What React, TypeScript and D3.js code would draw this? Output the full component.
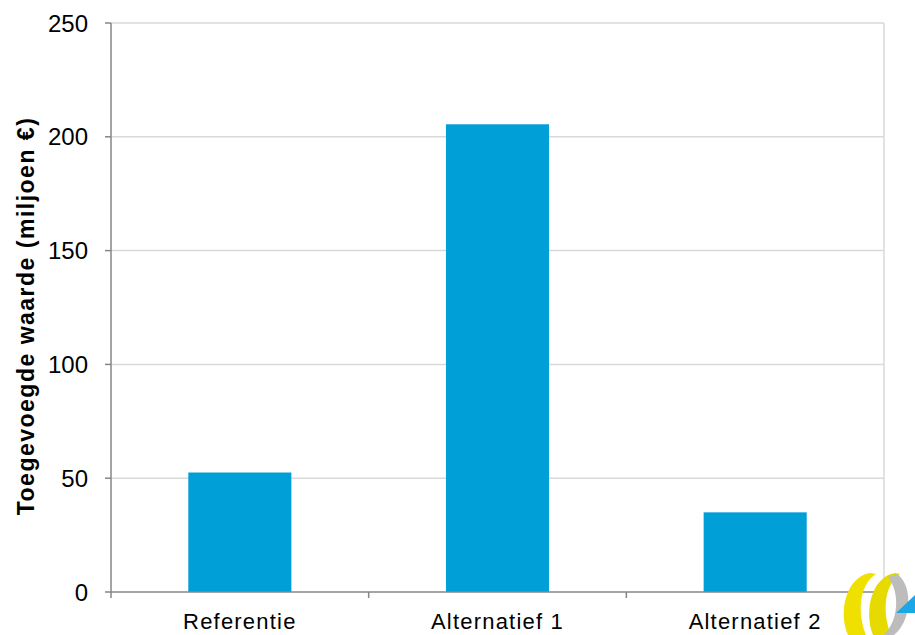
import React from "react";
import * as d3 from "d3";

const categories = ["Referentie", "Alternatief 1", "Alternatief 2"];
const values = [52.5, 205.5, 35];
const yTicks = [0, 50, 100, 150, 200, 250];
const yTitle = "Toegevoegde waarde (miljoen €)";

export default function App() {
  const W = 915, H = 635;
  const left = 111, right = 884, top = 23, bottom = 592;
  const x = d3.scaleBand<string>().domain(categories).range([left, right]).paddingInner(0.6).paddingOuter(0.3);
  const xb = d3.scaleBand<string>().domain(categories).range([left, right]);
  const y = d3.scaleLinear().domain([0, 250]).range([bottom, top]);
  const font = "'Liberation Sans', Arial, sans-serif";
  const bounds = [...categories.map((c) => xb(c) as number), right];
  return (
    <svg width={W} height={H} style={{ position: "absolute", left: 0, top: 0 }} fontFamily={font}>
      <rect width={W} height={H} fill="#fff" />
      {yTicks.filter((t) => t > 0).map((t) => (
        <line key={t} x1={left} x2={right} y1={y(t)} y2={y(t)} stroke="#d9d9d9" strokeWidth={1.5} />
      ))}
      <line x1={right} x2={right} y1={top} y2={bottom} stroke="#d9d9d9" strokeWidth={1.5} />
      {categories.map((c, i) => (
        <rect key={c} x={x(c)} y={y(values[i])} width={x.bandwidth()} height={bottom - y(values[i])} fill="#009fd8" />
      ))}
      <line x1={left} x2={left} y1={top} y2={bottom} stroke="#868686" strokeWidth={1.5} />
      <line x1={left} x2={right} y1={bottom} y2={bottom} stroke="#868686" strokeWidth={1.5} />
      {yTicks.map((t) => (
        <g key={t}>
          <line x1={left - 6} x2={left} y1={y(t)} y2={y(t)} stroke="#868686" strokeWidth={1.5} />
          <text x={left - 23} y={y(t)} dy="0.36em" textAnchor="end" fontSize={24} fill="#000">{t}</text>
        </g>
      ))}
      {bounds.map((b, i) => (
        <line key={i} x1={b} x2={b} y1={bottom} y2={bottom + 6} stroke="#868686" strokeWidth={1.5} />
      ))}
      {categories.map((c) => (
        <text key={c} x={(xb(c) as number) + xb.bandwidth() / 2} y={629} textAnchor="middle" fontSize={22} letterSpacing={1.2} fill="#000">{c}</text>
      ))}
      <text transform={`translate(34,316) rotate(-90)`} textAnchor="middle" fontSize={23} letterSpacing={1.5} fontWeight="bold" fill="#000">{yTitle}</text>
      <g>
        <path d="M870,573 C846,577 838,612 848,635 L866,635 C857,612 859,585 876,574 Z" fill="#f0e000" />
        <path d="M895,573 C871,577 864,612 873,635 L891,635 C882,612 884,585 900,574 Z" fill="#e6da00" />
        <path d="M897,574 C914,586 911,622 894,635 L884,635 C899,620 900,592 888,577 Z" fill="#bcbcbc" />
        <path d="M915,595 L915,613 L896,613 Z" fill="#1aa7e6" />
      </g>
    </svg>
  );
}
